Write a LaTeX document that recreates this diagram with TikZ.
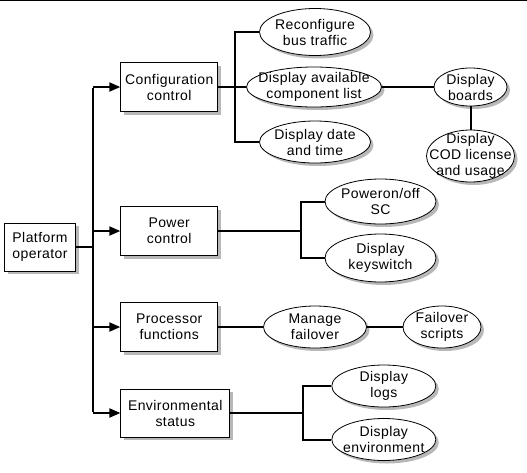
\documentclass[tikz,border=0pt]{standalone}
\usepackage{fontspec}
\setmainfont{Liberation Sans}[LetterSpace=3]
\usetikzlibrary{shapes.geometric,shadows,arrows.meta}
\begin{document}
\begin{tikzpicture}[x=1pt,y=-1pt,
  font=\fontsize{14}{16}\selectfont,
  shd/.style={drop shadow={shadow xshift=3pt,shadow yshift=-3pt,fill=black!28,opacity=1}},
  box/.style 2 args={draw,line width=0.8pt,fill=white,shd,inner sep=0pt,align=center,
    minimum width=#1,minimum height=#2},
  ell/.style 2 args={ellipse,draw,line width=0.8pt,fill=white,shd,inner sep=0pt,
    minimum width=#1,minimum height=#2},
  lbl/.style={align=center,inner sep=0pt},
  conn/.style={line width=2pt},
  arr/.style={line width=2pt,-{Triangle[length=11pt,width=9pt]}}
]
\useasboundingbox (0,0) rectangle (527,472);
\draw[line width=1pt] (0,0.5) -- (527,0.5);

% boxes
\node[box={71pt}{48pt}] (plat) at (40,247) {Platform\\operator};
\node[box={97pt}{49pt}] (conf) at (169.2,87) {Configuration\\control};
\node[box={97pt}{49pt}] (power) at (169.2,231) {Power\\control};
\node[box={97pt}{49pt}] (proc) at (169.2,327) {Processor\\functions};
\node[box={109pt}{48pt}] (env) at (175.3,413) {Environmental\\status};

% ellipses
\node[ell={111pt}{47pt},label={[lbl]center:{Reconfigure\\bus traffic}}] (reconf) at (315,32) {};
\node[ell={135pt}{40pt},label={[lbl]center:{Display available\\component list}}] (comp) at (314,87) {};
\node[ell={111pt}{42pt},label={[lbl]center:{Display date\\and time}}] (date) at (315,142) {};
\node[ell={73pt}{38pt},label={[lbl]center:{Display\\boards}}] (boards) at (470.5,87) {};
\node[ell={88pt}{52pt},label={[lbl]center:{Display\\COD license\\and usage}}] (cod) at (470.5,156) {};
\node[ell={111pt}{45pt},label={[lbl]center:{Poweron/off\\SC}}] (pon) at (380.5,201.5) {};
\node[ell={111pt}{48pt},label={[lbl]center:{Display\\keyswitch}}] (key) at (380.5,258) {};
\node[ell={103pt}{42pt},label={[lbl]center:{Manage\\failover}}] (manage) at (315,327) {};
\node[ell={78pt}{42pt},label={[lbl]center:{Failover\\scripts}}] (scripts) at (442,327) {};
\node[ell={104pt}{42pt},label={[lbl]center:{Display\\logs}}] (logs) at (383.8,386) {};
\node[ell={104pt}{42pt},label={[lbl]center:{Display\\environment}}] (envd) at (383.8,439.5) {};

% trunk
\coordinate (t0) at (92.7,247);
\coordinate (t1) at (92.7,87);
\coordinate (t2) at (92.7,231);
\coordinate (t3) at (92.7,327);
\coordinate (t4) at (92.7,413);
\draw[conn] (plat.east) -- (t0);
\draw[conn] ([yshift=-1pt]t1) -- ([yshift=1pt]t4);
\draw[arr] (t1) -- (conf.west);
\draw[arr] (t2) -- (power.west);
\draw[arr] (t3) -- (proc.west);
\draw[arr] (t4) -- (env.west);

% configuration branch
\coordinate (cj) at (235,87);
\draw[conn] (conf.east) -- (comp.west);
\draw[conn] (reconf.west) -| (cj) |- (date.west);
\draw[conn] (comp.east) -- (boards.west);
\draw[conn] (boards.south) -- (cod.north);

% power branch
\coordinate (pj) at (301,231);
\draw[conn] (power.east) -- (pj);
\draw[conn] (pon.west) -| (pj) |- (key.west);

% processor branch
\draw[conn] (proc.east) -- (manage.west);
\draw[conn] (manage.east) -- (scripts.west);

% environmental branch
\coordinate (ej) at (303.3,413);
\draw[conn] (env.east) -- (ej);
\draw[conn] (logs.west) -| (ej) |- (envd.west);
\end{tikzpicture}
\end{document}
